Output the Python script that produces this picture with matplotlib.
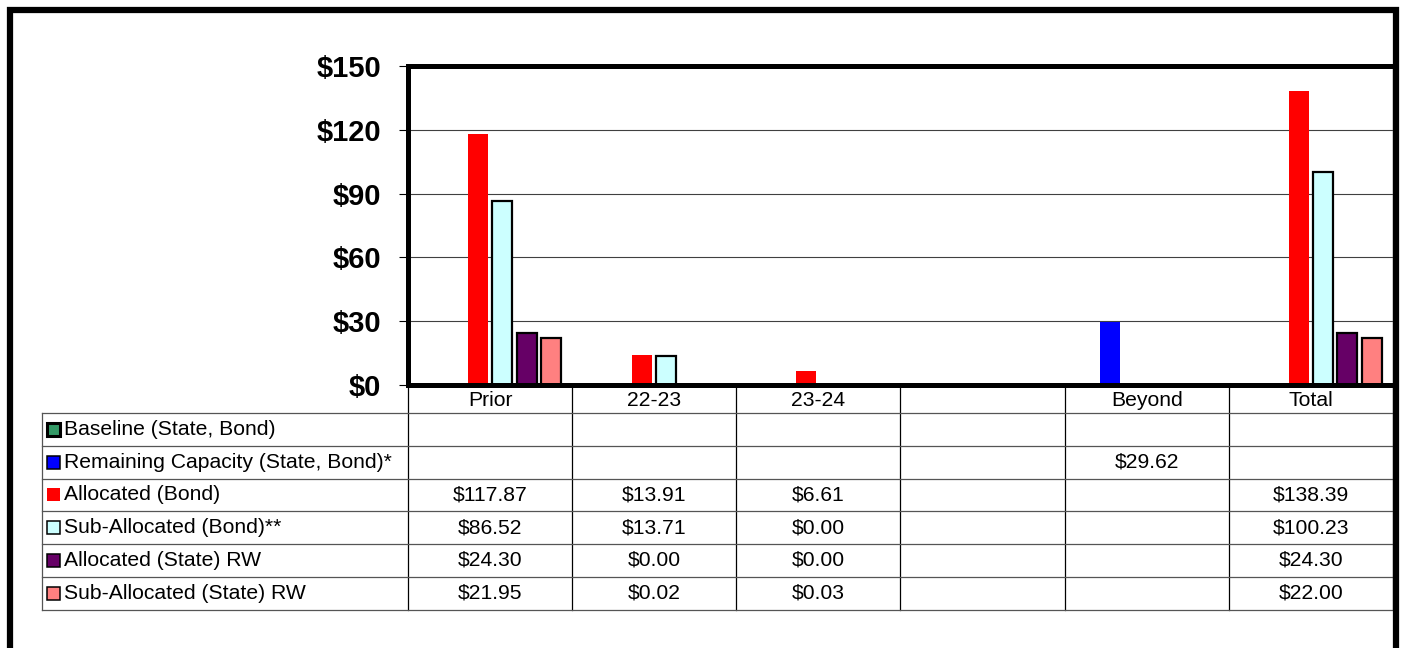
import numpy as np
import matplotlib
matplotlib.use("Agg")
import matplotlib.pyplot as plt
from matplotlib.patches import Rectangle
from matplotlib.ticker import FuncFormatter

plt.rcParams['font.family'] = ['Liberation Sans', 'DejaVu Sans']

# data (None = empty cell)
categories = ["Prior", "22-23", "23-24", "", "Beyond", "Total"]
series_names = ["Baseline (State, Bond)", "Remaining Capacity (State, Bond)*",
                "Allocated (Bond)", "Sub-Allocated (Bond)**",
                "Allocated (State) RW", "Sub-Allocated (State) RW"]
baseline = [None, None, None, None, None, None]
remaining = [None, None, None, None, 29.62, None]
alloc_bond = [117.87, 13.91, 6.61, None, None, 138.39]
sub_bond = [86.52, 13.71, 0.00, None, None, 100.23]
alloc_state = [24.30, 0.00, 0.00, None, None, 24.30]
sub_state = [21.95, 0.02, 0.03, None, None, 22.00]
yticks = [0, 30, 60, 90, 120, 150]

colors = ["#339966", "#0000FF", "#FF0000", "#CCFFFF", "#660066", "#FF8080"]
edges = ["black", "none", "none", "black", "black", "black"]

W, H = 1401, 648
# pixel layout of the plot area
PL, PR, PT, PB = 408, 1393, 66, 385
colw = (PR - PL) / len(categories)


def xd(p):
    # pixel x -> data x
    return -0.5 + (p - PL) / colw


def yf(p):
    # pixel y -> axes fraction
    return (PB - p) / (PB - PT)


def main():
    fig = plt.figure(figsize=(W / 100, H / 100), dpi=100)
    ax = fig.add_axes([PL / W, 1 - PB / H, (PR - PL) / W, (PB - PT) / H])

    data = [baseline, remaining, alloc_bond, sub_bond, alloc_state, sub_state]
    x = np.arange(len(categories))
    step = 24.3 / colw
    bw = 20 / colw
    for i, vals in enumerate(data):
        v = np.array([np.nan if a is None else a for a in vals], dtype=float)
        ax.bar(x + (i - 2.5) * step, v, width=bw, color=colors[i],
               edgecolor=edges[i], linewidth=1.6 if edges[i] != "none" else 0,
               zorder=3)

    ax.set_xlim(-0.5, len(categories) - 0.5)
    ax.set_ylim(0, 150)
    ax.set_yticks(yticks)
    ax.yaxis.set_major_formatter(FuncFormatter(lambda v, p: "$%d" % v))
    ax.tick_params(axis='y', length=6.5, width=0.8, pad=13, labelsize=21)
    for lb in ax.get_yticklabels():
        lb.set_fontweight('bold')
    ax.set_xticks([])
    ax.grid(axis='y', color='#404040', linewidth=0.8, zorder=0)
    ax.set_axisbelow(True)
    for s in ['left', 'top', 'bottom']:
        ax.spines[s].set_linewidth(3.6)
        ax.spines[s].set_zorder(5)
    ax.spines['right'].set_color('#808080')
    ax.spines['right'].set_linewidth(1)

    # data table below the plot
    tr = ax.get_xaxis_transform()
    rows = [385, 412.7, 445.7, 478.5, 511.3, 544, 576.8, 609.5]
    left = xd(42)
    right = len(categories) - 0.5
    fs = 15.2
    for r in rows[1:]:
        ax.plot([left, right], [yf(r), yf(r)], transform=tr, color='#555555',
                lw=0.9, clip_on=False, zorder=4)
    ax.plot([left, left], [yf(rows[1]), yf(rows[-1])], transform=tr,
            color='#555555', lw=0.9, clip_on=False)
    for k in range(len(categories) + 1):
        xx = k - 0.5
        ax.plot([xx, xx], [yf(rows[0]), yf(rows[-1])], transform=tr,
                color='black', lw=0.9, clip_on=False)
    # category labels
    for k, c in enumerate(categories):
        ax.text(k, yf((rows[0] + rows[1]) / 2 + 1.5), c, transform=tr,
                ha='center', va='center', fontsize=fs, clip_on=False)
    # series rows
    for i, vals in enumerate(data):
        ymid = (rows[i + 1] + rows[i + 2]) / 2
        kx0, kx1 = xd(47.5), xd(60.5)
        kh = 13
        lw = 2.2 if i == 0 else 1.1
        ax.add_patch(Rectangle((kx0, yf(ymid + kh / 2)), kx1 - kx0,
                               kh / (PB - PT), transform=tr,
                               facecolor=colors[i],
                               edgecolor='black' if i != 2 else 'none',
                               linewidth=lw, clip_on=False))
        ax.text(xd(64), yf(ymid), series_names[i], transform=tr,
                ha='left', va='center', fontsize=fs, clip_on=False)
        for k, v in enumerate(vals):
            if v is not None:
                ax.text(k, yf(ymid), "$%.2f" % v, transform=tr,
                        ha='center', va='center', fontsize=fs, clip_on=False)

    # outer frame (open at bottom)
    fig.add_artist(Rectangle((10 / W, -0.1), (1396 - 10) / W, 1.1 - 10 / H,
                             transform=fig.transFigure, fill=False,
                             edgecolor='black', linewidth=4.5))

    fig.savefig("out.png", dpi=100)
    plt.close(fig)


if __name__ == "__main__":
    main()
